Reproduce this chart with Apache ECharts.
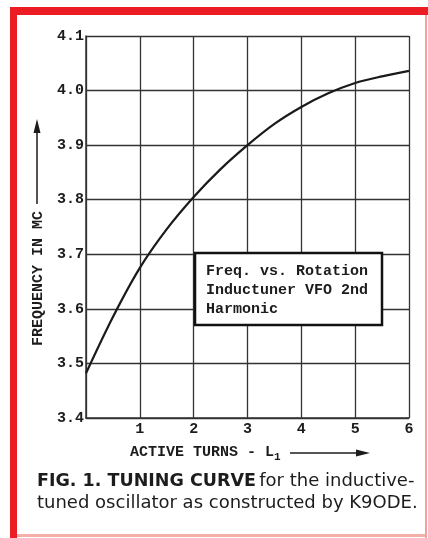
<!DOCTYPE html>
<html>
<head>
<meta charset="utf-8">
<script src="https://cdn.jsdelivr.net/npm/echarts@6/dist/echarts.min.js"></script>
<style>
  html, body { margin: 0; padding: 0; background: #fff; }
  #chart { width: 428px; height: 538px; }
</style>
</head>
<body>
<div id="chart"></div>
<script>
  // active turns of L1 (x) and frequency in Mc (y)
  const turns = [0, 0.5, 1, 1.5, 2, 2.5, 3, 3.5, 4, 4.5, 5, 5.5, 6];
  const freq = [3.482, 3.585, 3.675, 3.746, 3.805, 3.856, 3.900, 3.939, 3.970, 3.995, 4.014, 4.026, 4.036];
  const xTicks = [0, 1, 2, 3, 4, 5, 6];
  const yTicks = [3.4, 3.5, 3.6, 3.7, 3.8, 3.9, 4.0, 4.1];
  const boxLines = ['Freq. vs. Rotation', 'Inductuner VFO 2nd', 'Harmonic'];

  const mono = '"Liberation Mono", "DejaVu Sans Mono", monospace';
  const sans = '"DejaVu Sans", sans-serif';
  const ink = '#1c1c1c';
  const red = '#ec1c24';

  const chart = echarts.init(document.getElementById('chart'));

  chart.setOption({
    backgroundColor: '#fff',
    animation: false,
    grid: {left: 86, right: 19, top: 36, bottom: 120},
    xAxis: {
      type: 'value',
      min: xTicks[0],
      max: xTicks[xTicks.length - 1],
      interval: 1,
      axisLine: {show: true, lineStyle: {color: '#333', width: 1.5}},
      axisTick: {show: false},
      splitLine: {show: true, lineStyle: {color: '#333', width: 1.3}},
      axisLabel: {
        color: ink,
        fontFamily: mono,
        fontWeight: 'bold',
        fontSize: 15,
        margin: 4,
        formatter: v => v === 0 ? '' : String(v)
      }
    },
    yAxis: {
      type: 'value',
      min: yTicks[0],
      max: yTicks[yTicks.length - 1],
      interval: 0.1,
      axisLine: {show: true, lineStyle: {color: '#333', width: 1.5}},
      axisTick: {show: false},
      splitLine: {show: true, lineStyle: {color: '#333', width: 1.3}},
      axisLabel: {
        color: ink,
        fontFamily: mono,
        fontWeight: 'bold',
        fontSize: 15,
        margin: 2,
        formatter: v => v.toFixed(1)
      }
    },
    series: [{
      type: 'line',
      data: turns.map((t, i) => [t, freq[i]]),
      smooth: 0.3,
      symbol: 'none',
      lineStyle: {color: '#1a1a1a', width: 2.2}
    }],
    graphic: [
      // red frame
      {type: 'rect', shape: {x: 10, y: 7, width: 418, height: 8}, style: {fill: red}},
      {type: 'rect', shape: {x: 10, y: 7, width: 7, height: 531}, style: {fill: red}},
      {type: 'rect', shape: {x: 425, y: 15, width: 2, height: 523}, style: {fill: '#f2a0a0'}},
      {type: 'rect', shape: {x: 17, y: 534, width: 408, height: 3}, style: {fill: '#f4b0a8'}},
      // legend box
      {
        type: 'rect', z: 10,
        shape: {x: 195, y: 253, width: 187, height: 72},
        style: {fill: '#fff', stroke: '#111', lineWidth: 2.5}
      },
      {
        type: 'text', z: 11, left: 206, top: 262,
        style: {
          text: boxLines.join('\n'),
          font: 'bold 15px ' + mono,
          fill: ink,
          lineHeight: 19
        }
      },
      // y axis title with arrow
      {
        type: 'text', z: 5,
        x: 31, y: 346, rotation: Math.PI / 2,
        style: {text: 'FREQUENCY IN MC', font: 'bold 15px ' + mono, fill: ink, textVerticalAlign: 'top'}
      },
      {type: 'line', shape: {x1: 37, y1: 204, x2: 37, y2: 130}, style: {stroke: ink, lineWidth: 1.5}},
      {type: 'polygon', shape: {points: [[37, 119], [33.5, 133], [40.5, 133]]}, style: {fill: ink}},
      // x axis title with arrow
      {
        type: 'text', left: 130, top: 445,
        style: {
          text: '{t|ACTIVE TURNS - L}{s|1}',
          rich: {
            t: {font: 'bold 15px ' + mono, fill: ink},
            s: {font: 'bold 11px ' + mono, fill: ink, padding: [10, 0, 0, 0]}
          }
        }
      },
      {type: 'line', shape: {x1: 290, y1: 453, x2: 358, y2: 453}, style: {stroke: ink, lineWidth: 1.5}},
      {type: 'polygon', shape: {points: [[370, 453], [356, 449.5], [356, 456.5]]}, style: {fill: ink}},
      // caption
      {
        type: 'text', left: 37, top: 472,
        style: {
          text: '{b|FIG. 1. TUNING CURVE} {r|for the inductive-}',
          rich: {
            b: {font: 'bold 17.5px ' + sans, fill: ink},
            r: {font: '18px ' + sans, fill: ink}
          }
        }
      },
      {
        type: 'text', left: 37, top: 494,
        style: {text: 'tuned oscillator as constructed by K9ODE.', font: '18px ' + sans, fill: ink}
      }
    ]
  });
</script>
</body>
</html>
